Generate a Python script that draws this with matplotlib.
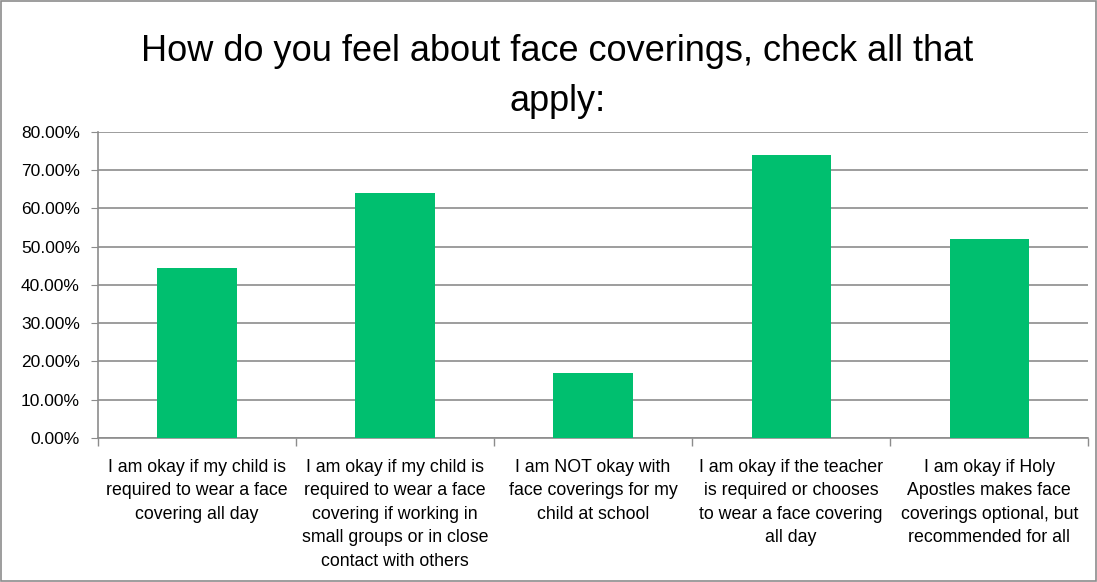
import matplotlib.pyplot as plt
from matplotlib.patches import Rectangle
from matplotlib.ticker import FuncFormatter, FixedLocator

categories = [
    "I am okay if my child is\nrequired to wear a face\ncovering all day",
    "I am okay if my child is\nrequired to wear a face\ncovering if working in\nsmall groups or in close\ncontact with others",
    "I am NOT okay with\nface coverings for my\nchild at school",
    "I am okay if the teacher\nis required or chooses\nto wear a face covering\nall day",
    "I am okay if Holy\nApostles makes face\ncoverings optional, but\nrecommended for all",
]
values = [0.445, 0.639, 0.171, 0.739, 0.521]
title = "How do you feel about face coverings, check all that\napply:"

plt.rcParams['font.family'] = ['Liberation Sans', 'DejaVu Sans']

fig = plt.figure(figsize=(10.97, 5.82), dpi=100)
ax = fig.add_axes([0.0893, 0.2474, 0.9027, 0.5263])

x = range(len(values))
ax.bar(x, values, width=0.4, color="#00bf6f", zorder=3)

ax.set_xlim(-0.5, len(values) - 0.5)
ax.set_ylim(0, 0.8)
ax.set_yticks([i / 10 for i in range(9)])
ax.yaxis.set_major_formatter(FuncFormatter(lambda v, p: f"{v * 100:.2f}%"))
ax.yaxis.grid(True, color="#8c8c8c", linewidth=1.2, zorder=0)

ax.set_xticks(list(x))
ax.set_xticklabels(categories, fontsize=12.8, linespacing=1.5)
ax.tick_params(axis="x", length=0, pad=15)
ax.xaxis.set_minor_locator(FixedLocator([i - 0.5 for i in range(len(values) + 1)]))
ax.tick_params(axis="x", which="minor", length=6, color="#8c8c8c", width=1)
ax.tick_params(axis="y", length=5, color="#8c8c8c", labelsize=12.5, pad=8)

for s in ["top", "right"]:
    ax.spines[s].set_visible(False)
for s in ["left", "bottom"]:
    ax.spines[s].set_color("#8c8c8c")
    ax.spines[s].set_linewidth(1.2)

fig.text(0.508, 0.942, title, ha="center", va="top", fontsize=26,
         linespacing=1.58)

fig.patches.append(Rectangle((0.001, 0.001), 0.998, 0.998, transform=fig.transFigure,
                             fill=False, edgecolor="#8c8c8c", linewidth=1.2))

fig.savefig("out.png", dpi=100)
